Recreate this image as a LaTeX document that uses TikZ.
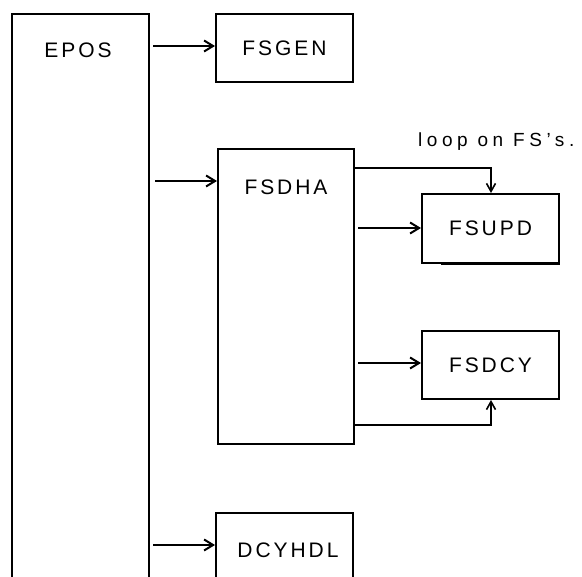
\documentclass[tikz,border=0pt]{standalone}
\usepackage{fontspec}
\setmainfont{Liberation Sans}[LetterSpace=14]
\usetikzlibrary{arrows.meta}
\tikzset{
  blk/.style={draw, line width=2pt, rectangle, inner sep=0pt, anchor=north west, font=\fontsize{21}{21}\selectfont},
  lbl/.style={inner sep=0pt, font=\fontsize{21}{21}\selectfont},
  arr/.style={line width=2pt, -{Straight Barb[length=9pt,width=11pt,line width=2pt]}},
  thinarr/.style={line width=1.6pt, -{Straight Barb[length=8pt,width=9pt,line width=1.6pt]}},
}
\begin{document}
\begin{tikzpicture}[x=1pt,y=-1pt]
\useasboundingbox[fill=white] (0,0) rectangle (582,577);
% boxes
\node[blk, minimum width=137pt, minimum height=600pt] (epos) at (11,13) {};
\node[lbl] (eposl) at (78,50) {EPOS};
\node[blk, minimum width=137pt, minimum height=68pt] (fsgen) at (215,13) {FSGEN};
\node[blk, minimum width=136pt, minimum height=295pt] (fsdha) at (217,148) {};
\node[lbl] (fsdhal) at (286,187) {FSDHA};
\node[blk, minimum width=137pt, minimum height=69pt] (fsupd) at (421,193) {FSUPD};
\node[blk, minimum width=137pt, minimum height=68pt] (fsdcy) at (421,330) {FSDCY};
\node[blk, minimum width=137pt, minimum height=100pt] (dcyhdl) at (215,512) {};
\node[lbl] (dcyhdll) at (288,550) {DCYHDL};
\node[inner sep=0pt, anchor=west, font=\fontsize{19}{19}\selectfont\addfontfeatures{LetterSpace=24}] (loop) at (418,142) {loop on FS's.};
% thicker bottom edge of FSUPD
\draw[line width=3pt] ([xshift=20pt]fsupd.south west) -- (fsupd.south east);
% coordinates
\coordinate (a1) at (153,46);
\coordinate (a2) at (155,181);
\coordinate (a3) at (358,228);
\coordinate (a4) at (358,363);
\coordinate (a5) at (153,545);
\coordinate (ltop) at (491,168);
\coordinate (lbot) at (491,425);
% connectors
\draw[arr] (a1) -- (a1 -| fsgen.west);
\draw[arr] (a2) -- (a2 -| fsdha.west);
\draw[arr] (a3) -- (a3 -| fsupd.west);
\draw[arr] (a4) -- (a4 -| fsdcy.west);
\draw[arr] (a5) -- (a5 -| dcyhdl.west);
\draw[thinarr] (ltop -| fsdha.east) -- (ltop) -- (ltop |- fsupd.north);
\draw[thinarr] (lbot -| fsdha.east) -- (lbot) -- (lbot |- fsdcy.south);
\end{tikzpicture}
\end{document}
